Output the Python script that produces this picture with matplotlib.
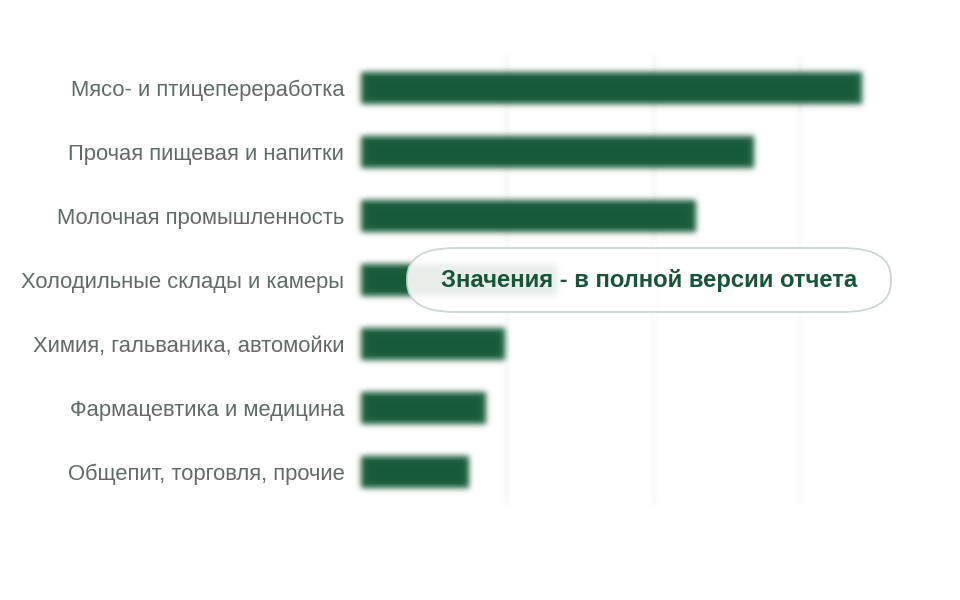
import numpy as np
import matplotlib
matplotlib.use('Agg')
import matplotlib.pyplot as plt
from matplotlib.patches import FancyBboxPatch

categories = [
    'Мясо- и птицепереработка',
    'Прочая пищевая и напитки',
    'Молочная промышленность',
    'Холодильные склады и камеры',
    'Химия, гальваника, автомойки',
    'Фармацевтика и медицина',
    'Общепит, торговля, прочие',
]
values = [34.2, 26.8, 22.9, 13.4, 9.8, 8.5, 7.4]
grid_ticks = [10, 20, 30]
note = 'Значения - в полной версии отчета'

bar_color = '#175c39'
label_color = '#5f6b68'

plt.rcParams['font.family'] = ['Liberation Sans', 'DejaVu Sans']


def make_blur(sigma):
    # gaussian blur for agg_filter, on premultiplied colours
    r = int(3 * sigma) + 1
    k = np.exp(-0.5 * (np.arange(-r, r + 1) / sigma) ** 2)
    k /= k.sum()

    def filt(im, dpi):
        h, w = im.shape[:2]
        a = im[:, :, 3:4]
        pm = np.concatenate([im[:, :, :3] * a, a], axis=2)
        p = np.pad(pm, ((2 * r, 2 * r), (2 * r, 2 * r), (0, 0)))
        tmp = sum(k[i] * p[:, i:i + w + 2 * r] for i in range(len(k)))
        out = sum(k[i] * tmp[i:i + h + 2 * r, :] for i in range(len(k)))
        alpha = out[:, :, 3:4]
        rgb = np.where(alpha > 1e-6, out[:, :, :3] / np.maximum(alpha, 1e-6), 0)
        res = np.concatenate([np.clip(rgb, 0, 1), alpha], axis=2)
        return res, -r, -r
    return filt


fig = plt.figure(figsize=(9.6, 6), dpi=100, facecolor='white')
ax = fig.add_axes([361 / 960, 0.16, 527.4 / 960, 0.7467])

y = np.arange(len(categories))
for gx in grid_ticks:
    ln = ax.axvline(gx, color='#eceeed', lw=1.2, zorder=0)
    ln.set_agg_filter(make_blur(2.0))

bars = ax.barh(y, values, height=0.5, color=bar_color, zorder=2)
blur = make_blur(3.0)
for b in bars:
    b.set_agg_filter(blur)

ax.set_xlim(0, 36)
ax.set_ylim(len(categories) - 0.5, -0.5)
ax.set_yticks(y)
ax.set_yticklabels(categories, fontsize=15.8, color=label_color)
ax.set_xticks([])
ax.tick_params(axis='y', length=0, pad=12)
for s in ax.spines.values():
    s.set_visible(False)

# overlay note
box = FancyBboxPatch((407 / 960, 1 - 312 / 600), 484 / 960, 64 / 600,
                     boxstyle='round,pad=0,rounding_size=0.05',
                     transform=fig.transFigure, facecolor='white', alpha=0.9,
                     edgecolor='#c8d2cd', linewidth=1.3, zorder=5)
fig.patches.append(box)
fig.text(649 / 960, 1 - 280 / 600, note, ha='center', va='center',
         fontsize=17.2, fontweight='bold', color='#1a5438', zorder=6)

fig.savefig('out.png', dpi=100, facecolor='white')
